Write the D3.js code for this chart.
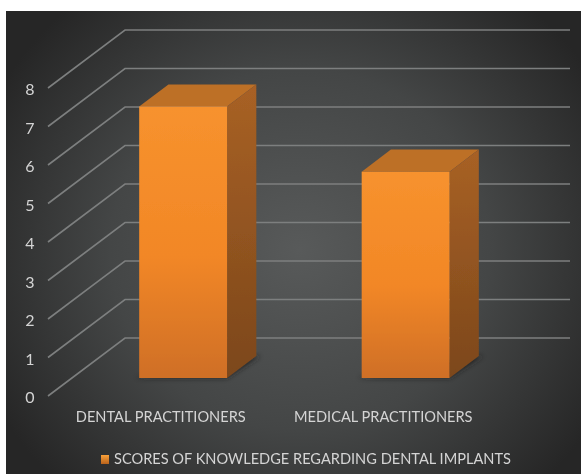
<!DOCTYPE html>
<html><head><meta charset="utf-8">
<style>html,body{margin:0;padding:0;background:#fff;overflow:hidden}svg{display:block}</style>
<script src="https://cdn.jsdelivr.net/npm/d3@7"></script></head>
<body><svg id="c" width="581" height="474"></svg>
<script>
const categories = ["DENTAL PRACTITIONERS", "MEDICAL PRACTITIONERS"];
const scores = [7.05, 5.36];
const yTicks = [0, 1, 2, 3, 4, 5, 6, 7, 8];
const legendLabel = "SCORES OF KNOWLEDGE REGARDING DENTAL IMPLANTS";

const font = "Lato, 'Open Sans', sans-serif";
const textColor = "#d4d4d4";
const svg = d3.select("#c");
const defs = svg.append("defs");

const x = d3.scaleBand().domain(categories).range([48, 493]).paddingInner(0.605).paddingOuter(0.3025);
const y = d3.scaleLinear().domain([0, 8]).range([396, 88]);
// depth in the 3D box: 0 = front edge of the axis wall, 1 = back wall
const depthX = d3.scaleLinear().domain([0, 1]).range([0, 77]);
const depthY = d3.scaleLinear().domain([0, 1]).range([0, -58]);
const barNear = 0.31, barFar = 0.69;
const P = (px, v, d) => [px + depthX(d), y(v) + depthY(d)];
const poly = pts => pts.map(p => p.join(",")).join(" ");

const bg = defs.append("radialGradient").attr("id", "bg").attr("gradientUnits", "userSpaceOnUse")
  .attr("cx", 300).attr("cy", 250).attr("r", 345)
  .attr("gradientTransform", "translate(300 250) scale(1 0.95) translate(-300 -250)");
bg.append("stop").attr("offset", 0).attr("stop-color", "#585a5a");
bg.append("stop").attr("offset", 0.55).attr("stop-color", "#444646");
bg.append("stop").attr("offset", 1).attr("stop-color", "#262626");
function vert(id, stops) {
  const g = defs.append("linearGradient").attr("id", id).attr("x1", 0).attr("y1", 0).attr("x2", 0).attr("y2", 1);
  stops.forEach(s => g.append("stop").attr("offset", s[0]).attr("stop-color", s[1]));
}
vert("front", [[0, "#f7922e"], [0.55, "#f28726"], [1, "#cf6f25"]]);
vert("side", [[0, "#a86125"], [1, "#7c471b"]]);
vert("swatch", [[0, "#f9a13a"], [1, "#b8621c"]]);
defs.append("filter").attr("id", "soft").append("feGaussianBlur").attr("stdDeviation", 0.55);
defs.append("filter").attr("id", "shadow").attr("x", "-30%").attr("y", "-30%").attr("width", "160%").attr("height", "160%")
  .append("feGaussianBlur").attr("stdDeviation", 2.5);

svg.append("rect").attr("x", 6).attr("y", 11).attr("width", 575).attr("height", 463).attr("fill", "url(#bg)");
const root = svg.append("g").attr("filter", "url(#soft)");

// gridlines: side wall + back wall
root.append("g").selectAll("polyline").data(yTicks).join("polyline")
  .attr("fill", "none").attr("stroke", "#7d7f7f").attr("stroke-width", 1.6)
  .attr("points", v => poly([P(48, v, 0), P(48, v, 1), P(493, v, 1)]));

// value axis
const yAxis = root.append("g").attr("transform", "translate(34.5,1.5)")
  .call(d3.axisLeft(y).tickValues(yTicks).tickSize(0).tickPadding(0));
yAxis.select(".domain").remove();
yAxis.selectAll("text").attr("font-family", font).attr("font-size", 16).attr("fill", textColor);

// category axis
const xAxis = root.append("g").attr("transform", "translate(1.5,412)")
  .call(d3.axisBottom(x).tickSize(0).tickPadding(0));
xAxis.select(".domain").remove();
xAxis.selectAll("text").attr("font-family", font).attr("font-size", 14.6).attr("fill", textColor);

// bars
const bars = root.append("g").selectAll("g").data(categories.map((c, i) => ({ c, v: scores[i] }))).join("g");
bars.append("polygon").attr("fill", "#1c1c1c").attr("opacity", 0.75).attr("filter", "url(#shadow)")
  .attr("points", d => {
    const l = x(d.c) - 4, r = x(d.c) + x.bandwidth();
    return poly([P(l, 0, barNear), P(r, 0, barNear), P(r + 4, 0, barFar), P(r, 0, barFar)]);
  });
bars.append("polygon").attr("fill", "#bd6f26")
  .attr("points", d => {
    const l = x(d.c), r = l + x.bandwidth();
    return poly([P(l, d.v, barNear), P(r, d.v, barNear), P(r, d.v, barFar), P(l, d.v, barFar)]);
  });
bars.append("polygon").attr("fill", "url(#side)")
  .attr("points", d => {
    const r = x(d.c) + x.bandwidth();
    return poly([P(r, d.v, barNear), P(r, d.v, barFar), P(r, 0, barFar), P(r, 0, barNear)]);
  });
bars.append("polygon").attr("fill", "url(#front)")
  .attr("points", d => {
    const l = x(d.c), r = l + x.bandwidth();
    return poly([P(l, d.v, barNear), P(r, d.v, barNear), P(r, 0, barNear), P(l, 0, barNear)]);
  });

// legend
root.append("rect").attr("x", 101).attr("y", 455).attr("width", 8).attr("height", 9).attr("fill", "url(#swatch)");
root.append("text").attr("x", 114).attr("y", 463.5).attr("font-family", font).attr("font-size", 14.6)
  .attr("fill", textColor).text(legendLabel);
</script></body></html>
